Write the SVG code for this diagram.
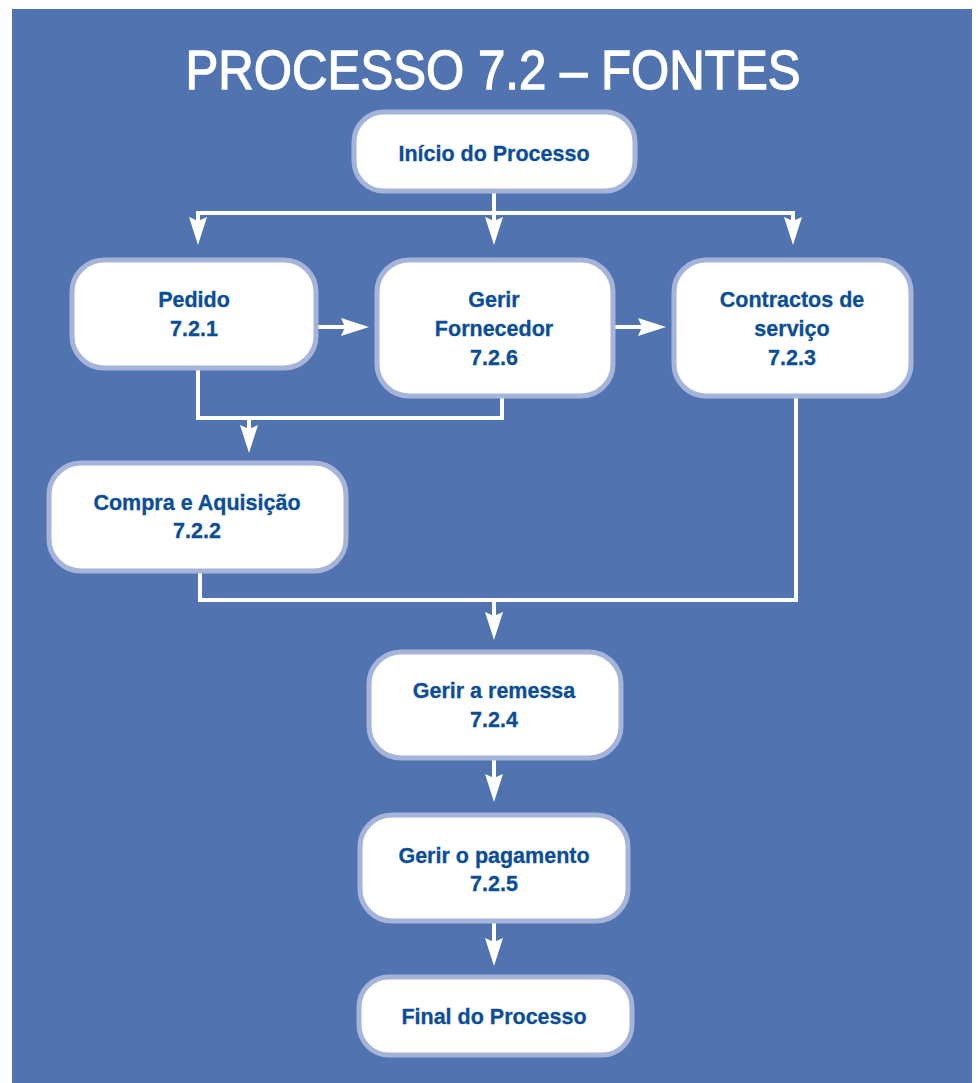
<svg xmlns="http://www.w3.org/2000/svg" width="978" height="1083" viewBox="0 0 978 1083">
  <defs>
    <style>
      .bg { fill: #5174B0; }
      .title { font-family: "Liberation Sans", Arial, sans-serif; font-size: 56px; fill: #FFFFFF; stroke: #FFFFFF; stroke-width: 1.3; text-anchor: middle; }
      .box { fill: #FFFFFF; stroke: #A7B4DA; stroke-width: 5; }
      .lbl { font-family: "Liberation Sans", Arial, sans-serif; font-weight: bold; font-size: 21.5px; fill: #0B4E98; stroke: #0B4E98; stroke-width: 0.3; text-anchor: middle; }
      .wire { fill: none; stroke: #FFFFFF; stroke-width: 4; stroke-linejoin: miter; stroke-linecap: butt; }
    </style>
    <!-- narrow arrowhead; the wire stops 18px short of the tip -->
    <marker id="arrow" viewBox="0 0 28 18" refX="10" refY="9" markerWidth="28" markerHeight="18" markerUnits="userSpaceOnUse" orient="auto">
      <path d="M0,0 L28,9 L0,18 L4,9 Z" fill="#FFFFFF"/>
    </marker>
  </defs>

  <rect class="bg" x="12" y="9" width="960" height="1074"/>

  <text class="title" x="493" y="89" textLength="615" lengthAdjust="spacingAndGlyphs">PROCESSO 7.2 – FONTES</text>

  <!-- connectors -->
  <g id="connectors">
    <path class="wire" d="M494,193 V213"/>
    <path class="wire" d="M198,213 H793"/>
    <path class="wire" d="M198,211 V227" marker-end="url(#arrow)"/>
    <path class="wire" d="M494,211 V227" marker-end="url(#arrow)"/>
    <path class="wire" d="M793,211 V227" marker-end="url(#arrow)"/>
    <path class="wire" d="M318,327 H351" marker-end="url(#arrow)"/>
    <path class="wire" d="M615,327 H648" marker-end="url(#arrow)"/>
    <path class="wire" d="M198,370 V418 H502 V398"/>
    <path class="wire" d="M249,418 V435" marker-end="url(#arrow)"/>
    <path class="wire" d="M200,573 V600 H796 V398"/>
    <path class="wire" d="M494,600 V622" marker-end="url(#arrow)"/>
    <path class="wire" d="M494,760 V784" marker-end="url(#arrow)"/>
    <path class="wire" d="M494,923 V948" marker-end="url(#arrow)"/>
  </g>

  <g id="inicio">
    <rect class="box" x="354" y="112" width="281" height="79" rx="30"/>
    <text class="lbl" x="494" y="161">Início do Processo</text>
  </g>

  <g id="pedido">
    <rect class="box" x="72" y="260" width="244" height="108" rx="32"/>
    <text class="lbl" x="194" y="307">Pedido</text>
    <text class="lbl" x="194" y="336">7.2.1</text>
  </g>

  <g id="gerir-fornecedor">
    <rect class="box" x="377" y="260" width="236" height="136" rx="32"/>
    <text class="lbl" x="494" y="307">Gerir</text>
    <text class="lbl" x="494" y="336">Fornecedor</text>
    <text class="lbl" x="494" y="365">7.2.6</text>
  </g>

  <g id="contractos">
    <rect class="box" x="674" y="260" width="237" height="136" rx="32"/>
    <text class="lbl" x="792" y="307">Contractos de</text>
    <text class="lbl" x="792" y="336">serviço</text>
    <text class="lbl" x="792" y="365">7.2.3</text>
  </g>

  <g id="compra">
    <rect class="box" x="49" y="463" width="297" height="108" rx="32"/>
    <text class="lbl" x="197" y="510">Compra e Aquisição</text>
    <text class="lbl" x="197" y="538">7.2.2</text>
  </g>

  <g id="remessa">
    <rect class="box" x="369" y="652" width="252" height="106" rx="32"/>
    <text class="lbl" x="494" y="698">Gerir a remessa</text>
    <text class="lbl" x="494" y="727">7.2.4</text>
  </g>

  <g id="pagamento">
    <rect class="box" x="360" y="815" width="268" height="106" rx="32"/>
    <text class="lbl" x="494" y="863">Gerir o pagamento</text>
    <text class="lbl" x="494" y="891">7.2.5</text>
  </g>

  <g id="final">
    <rect class="box" x="359" y="977" width="273" height="78" rx="30"/>
    <text class="lbl" x="494" y="1024">Final do Processo</text>
  </g>
</svg>
